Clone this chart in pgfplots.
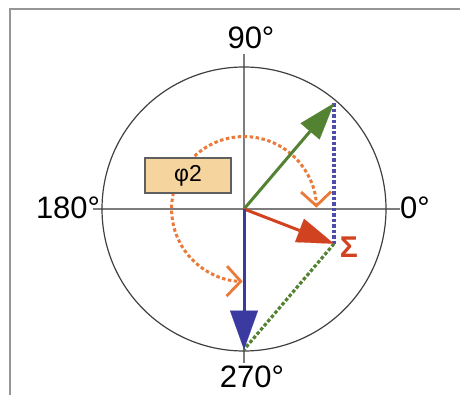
\documentclass[border=0pt]{standalone}
\usepackage{fontspec}
\setmainfont{Liberation Sans}
\usepackage{pgfplots}
\pgfplotsset{compat=1.18}
\usetikzlibrary{arrows.meta}
\definecolor{vgreen}{RGB}{82,130,50}
\definecolor{vred}{RGB}{208,66,32}
\definecolor{vblue}{RGB}{58,58,160}
\definecolor{vorange}{RGB}{234,122,58}
\definecolor{boxfill}{RGB}{245,212,158}
\definecolor{boxline}{RGB}{95,95,95}
\definecolor{axgray}{RGB}{125,125,125}
\definecolor{framegray}{RGB}{150,150,150}
\begin{document}
\begin{tikzpicture}
\begin{axis}[
  at={(0,0)}, anchor=south west,
  scale only axis, width=460pt, height=394pt,
  xmin=-1.71831, xmax=1.52113, ymin=-1.30282, ymax=1.47183,
  hide axis, clip=false,
]
% frame
\draw[framegray, line width=1.4pt] (axis cs:-1.648,-1.31) -- (axis cs:-1.648,1.408) -- (axis cs:1.53,1.408);
% crosshair
\draw[axgray, line width=1.4pt] (axis cs:-1.065,0) -- (axis cs:1.10,0);
\draw[axgray, line width=1.4pt] (axis cs:0,1.095) -- (axis cs:0,-1.085);
% circle
\draw[black!75, line width=1.2pt] (axis cs:0,0) circle[radius=142pt];
% dashed construction lines
\addplot[vblue!90, line width=3.2pt, dash pattern=on 3.5pt off 2pt, no markers] coordinates {(0.634,0.745) (0.634,-0.245)};
\addplot[vgreen, line width=3.2pt, dash pattern=on 3.5pt off 2pt, no markers] coordinates {(0.634,-0.245) (0,-0.99)};
% orange arcs
\draw[vorange, line width=3pt, dash pattern=on 3.5pt off 2.5pt, -{Straight Barb[length=14pt,width=30pt,line width=2.8pt]}]
  (axis cs:-0.3478,0.3730) arc[start angle=133, end angle=1, radius=72.4pt];
\draw[vorange, line width=3pt, dash pattern=on 3.5pt off 2.5pt, -{Straight Barb[length=14pt,width=30pt,line width=2.8pt]}]
  (axis cs:-0.4969,0.1147) arc[start angle=167, end angle=269, radius=72.4pt];
% phi box
\node[draw=boxline, fill=boxfill, line width=1.6pt, minimum width=86pt, minimum height=35pt, inner sep=0pt,
      font=\fontsize{23}{25}\selectfont] at (axis cs:-0.394,0.236) {φ2};
% vectors
\addplot[vgreen, line width=3pt, no markers, -{Triangle[length=37pt,width=25pt,line width=0.1pt]}] coordinates {(0,0) (0.634,0.745)};
\addplot[vred, line width=3pt, no markers, -{Triangle[length=37pt,width=25pt,line width=0.1pt]}] coordinates {(0,0) (0.634,-0.245)};
\addplot[vblue, line width=3pt, no markers, -{Triangle[length=39pt,width=28pt,line width=0.1pt]}] coordinates {(0,0) (0,-0.99)};
% labels
\node[font=\fontsize{31}{33}\selectfont] at (axis cs:0.049,1.204) {90°};
\node[font=\fontsize{31}{33}\selectfont] at (axis cs:1.204,0.007) {0°};
\node[font=\fontsize{31}{33}\selectfont] at (axis cs:-1.239,0.007) {180°};
\node[font=\fontsize{31}{33}\selectfont] at (axis cs:0.056,-1.183) {270°};
\node[text=vred, font=\fontsize{30}{32}\selectfont\bfseries] at (axis cs:0.739,-0.271) {Σ};
\end{axis}
\pgfresetboundingbox
\path (0,0) rectangle (460pt,394pt);
\end{tikzpicture}
\end{document}
